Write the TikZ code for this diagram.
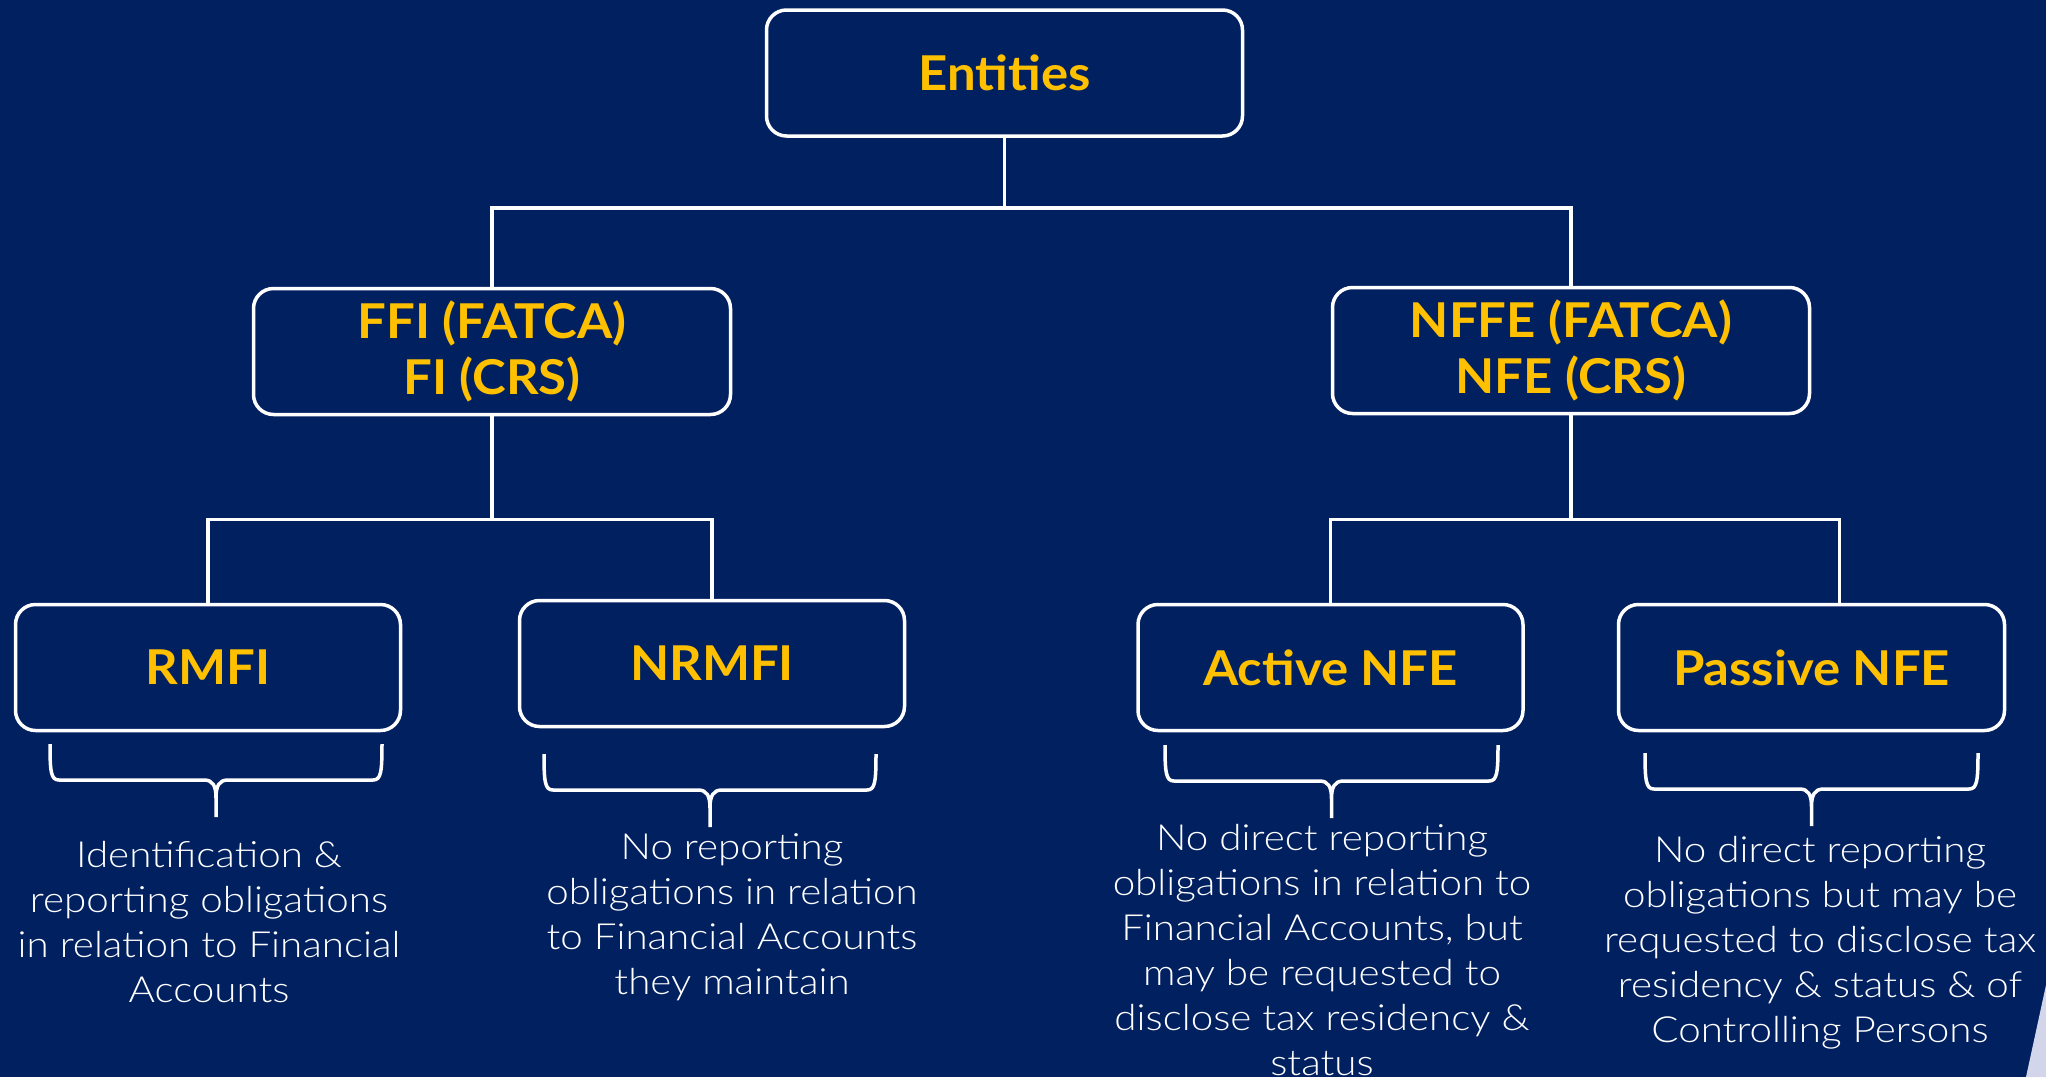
\documentclass[tikz,border=0pt]{standalone}
\usepackage{fontspec}
\setmainfont{Lato}
\newfontfamily\labelfont{Lato}[UprightFont = * Bold, FakeStretch = 1.06]
\newfontfamily\notefont{Lato}[UprightFont = * Light, FakeStretch = 1.12]
\usepackage{tikz}
\definecolor{deepnavy}{HTML}{002060}
\definecolor{labelgold}{HTML}{FFC000}
\definecolor{cornerlilac}{HTML}{D3D6EA}
\tikzstyle{entity_box} = [draw = white, line width = 3.5, rounded corners = 20, fill = deepnavy, text = labelgold, align = center, font = \labelfont\fontsize{48}{56}\selectfont, minimum height = 126, inner sep = 0]
\tikzstyle{entity_link} = [draw = white, line width = 3.5]
\tikzstyle{entity_brace} = [draw = white, line width = 3.5, line join = round]
\tikzstyle{entity_note} = [text = white, align = center, font = \notefont\fontsize{36}{45}\selectfont, inner sep = 0]
\newcommand{\notebrace}[3]{%
    \begin{scope} [shift = {(#1, #2)}]
        \draw [style = {entity_brace}] (0, 0) .. controls (0, 28) and (1, 36) .. (9, 36) -- ({#3/2 - 12}, 36) .. controls ({#3/2 - 3}, 36) and ({#3/2}, 42) .. ({#3/2}, 54) -- ({#3/2}, 73)
            ({#3/2}, 54) .. controls ({#3/2}, 42) and ({#3/2 + 3}, 36) .. ({#3/2 + 12}, 36) -- ({#3 - 9}, 36) .. controls ({#3 - 1}, 36) and (#3, 28) .. (#3, 0);
    \end{scope}}

\begin{document}
\begin{tikzpicture} [x = 1pt, y = -1pt]
        \useasboundingbox (0, 0) rectangle (2046, 1077);
        \fill [deepnavy] (0, 0) rectangle (2046, 1077);
        \fill [cornerlilac] (2026, 1077) -- (2046, 985) -- (2046, 1077) -- cycle;

        \node [style = {entity_box}, minimum width = 476] (entities) at (1004.5, 73) {Entities};
        \node [style = {entity_box}, minimum width = 477] (ffi) at (492, 351.5) {FFI (FATCA)\\FI (CRS)};
        \node [style = {entity_box}, minimum width = 477] (nffe) at (1571, 350.5) {NFFE (FATCA)\\NFE (CRS)};
        \node [style = {entity_box}, minimum width = 385] (rmfi) at (208, 667.5) {RMFI};
        \node [style = {entity_box}, minimum width = 385] (nrmfi) at (712, 663.5) {NRMFI};
        \node [style = {entity_box}, minimum width = 385] (activenfe) at (1330.5, 667.5) {Active NFE};
        \node [style = {entity_box}, minimum width = 386] (passivenfe) at (1811.5, 667.5) {Passive NFE};

        \draw [style = {entity_link}] (entities.south) -- ++(0, 70) -| (ffi.north);
        \draw [style = {entity_link}] (entities.south) -- ++(0, 70) -| (nffe.north);
        \draw [style = {entity_link}] (ffi.south) -- ++(0, 103) -| (rmfi.north);
        \draw [style = {entity_link}] (ffi.south) -- ++(0, 103) -| (nrmfi.north);
        \draw [style = {entity_link}] (nffe.south) -- ++(0, 104) -| (activenfe.north);
        \draw [style = {entity_link}] (nffe.south) -- ++(0, 104) -| ([xshift = 28] passivenfe.north);

        \notebrace{50}{744}{332}
        \notebrace{544}{754}{332}
        \notebrace{1165}{745}{333}
        \notebrace{1645}{753}{333}

        \node [style = {entity_note}] (rmfinote) at (209, 922) {Identification \&\\reporting obligations\\in relation to Financial\\Accounts};
        \node [style = {entity_note}] (nrmfinote) at (732, 917) {No reporting\\obligations in relation\\to Financial Accounts\\they maintain};
        \node [style = {entity_note}] (activenote) at (1322, 950) {No direct reporting\\obligations in relation to\\Financial Accounts, but\\may be requested to\\disclose tax residency \&\\status};
        \node [style = {entity_note}] (passivenote) at (1820, 943) {No direct reporting\\obligations but may be\\requested to disclose tax\\residency \& status \& of\\Controlling Persons};
    \end{tikzpicture}
\end{document}
